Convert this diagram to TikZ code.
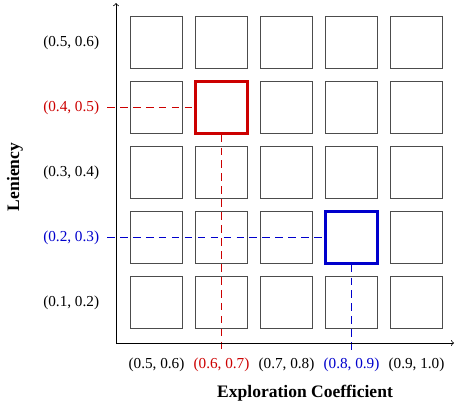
\documentclass[tikz,border=0pt]{standalone}
\usepackage{fontspec}
\setmainfont{Liberation Serif}
\usepackage{tikz}
\usetikzlibrary{calc,positioning}
\colorlet{selred}{red!80!black}
\colorlet{selblue}{blue!80!black}
\colorlet{cellgray}{black!70}

\begin{document}
\begin{tikzpicture}[x=1.5cm, y=1.5cm, font=\fontsize{10}{12}\selectfont]
   \useasboundingbox (-1.785,-1.046) rectangle (5.215,5.277);
   \begin{scope}[every node/.style={draw=cellgray, line width=0.9pt, minimum size=1.2cm, inner sep=0pt}]
    \foreach \i in {1,...,5}
     \foreach \j in {1,...,5}
      \node (b\i\j) at (\i-0.377,\j-0.377) {};
   \end{scope}
   \node[draw=selred, line width=1.4pt, minimum size=1.2cm, inner sep=0pt] (r) at (b24) {};
   \node[draw=selblue, line width=1.4pt, minimum size=1.2cm, inner sep=0pt] (bl) at (b42) {};
   % selected cells
   \coordinate (rl) at (-0.138,3.623);
   \coordinate (rb) at (1.623,-0.138);
   \coordinate (bll) at (-0.138,1.623);
   \coordinate (blb) at (3.623,-0.138);
   \begin{scope}[line width=1.2pt, dash pattern=on 5pt off 3.5pt]
    \draw[draw=selred] (rl) -- (r.west);
    \draw[draw=selred] (r.south) -- (rb);
    \draw[draw=selblue] (bll) -- (bl.west);
    \draw[draw=selblue] (bl.south) -- (blb);
   \end{scope}
   % axis labels
   \node (l1) at (-0.69,0.623) {(0.1, 0.2)};
   \node[text=selblue] (l2) at (-0.69,1.623) {(0.2, 0.3)};
   \node (l3) at (-0.69,2.623) {(0.3, 0.4)};
   \node[text=selred] (l4) at (-0.69,3.623) {(0.4, 0.5)};
   \node (l5) at (-0.69,4.623) {(0.5, 0.6)};
   \node (c1) at (0.623,-0.338) {(0.5, 0.6)};
   \node[text=selred] (c2) at (1.623,-0.338) {(0.6, 0.7)};
   \node (c3) at (2.623,-0.338) {(0.7, 0.8)};
   \node[text=selblue] (c4) at (3.623,-0.338) {(0.8, 0.9)};
   \node (c5) at (4.623,-0.338) {(0.9, 1.0)};
   \node[font=\fontsize{11.5}{14}\selectfont\bfseries] (xl) at (2.908,-0.769) {Exploration Coefficient};
   \node[font=\fontsize{11.5}{14}\selectfont\bfseries, rotate=90] (yl) at (-1.554,2.554) {Leniency};
   % axes
   \coordinate (o) at (0,0);
   \coordinate (ytop) at (0,5.23);
   \coordinate (xend) at (5.2,0);
   \draw[->, line width=0.5pt] (o) -- (ytop);
   \draw[->, line width=0.5pt] (o) -- (xend);
\end{tikzpicture}
\end{document}
